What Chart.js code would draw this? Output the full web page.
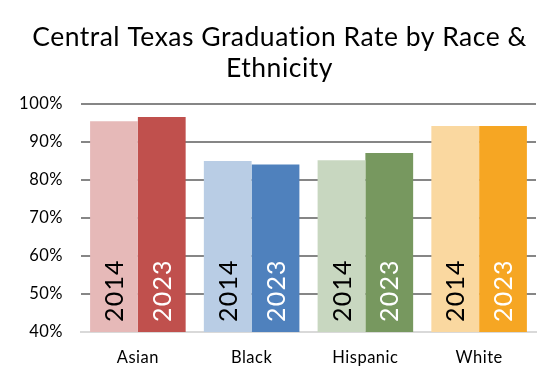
<!DOCTYPE html>
<html>
<head>
<meta charset="utf-8">
<script src="https://cdn.jsdelivr.net/npm/chart.js@4"></script>
<style>
  html, body { margin: 0; padding: 0; background: #fff; }
  #wrap { width: 559px; height: 382px; }
</style>
</head>
<body>
<div id="wrap"><canvas id="grafico" width="559" height="382"></canvas></div>
<script>
// datos del grafico
let categorias = ['Asian', 'Black', 'Hispanic', 'White'];
let anios = ['2014', '2023'];
let tasa2014 = [0.955, 0.850, 0.852, 0.942];
let tasa2023 = [0.966, 0.841, 0.871, 0.942];

let colores2014 = ['#E6B9B8', '#B9CDE5', '#C8D7C0', '#FAD8A0'];
let colores2023 = ['#C0504D', '#4F81BD', '#77985F', '#F6A623'];

let fuente = 'Lato, "DejaVu Sans", sans-serif';

// letra un poco mas ancha, parecida a la original
const espaciado = {
  id: 'espaciado',
  beforeDraw(chart) {
    chart.ctx.letterSpacing = '0.5px';
  }
};

// para poner el año dentro de cada barra
const etiquetasAnio = {
  id: 'etiquetasAnio',
  afterDraw(chart) {
    let ctx = chart.ctx;
    let base = chart.scales.y.getPixelForValue(0.4);
    chart.data.datasets.forEach(function(ds, i) {
      let meta = chart.getDatasetMeta(i);
      meta.data.forEach(function(barra) {
        ctx.save();
        ctx.translate(barra.x, base - 10);
        ctx.rotate(-Math.PI / 2);
        ctx.font = '25px ' + fuente;
        ctx.letterSpacing = '1.2px';
        ctx.fillStyle = i == 0 ? '#000000' : '#ffffff';
        ctx.textAlign = 'left';
        ctx.textBaseline = 'middle';
        ctx.fillText(ds.label, 0, 1);
        ctx.restore();
      });
    });
  }
};

let graf = document.getElementById('grafico').getContext('2d');
let chart = new Chart(graf, {
  type: 'bar',
  data: {
    labels: categorias,
    datasets: [
      { label: anios[0], data: tasa2014, backgroundColor: colores2014 },
      { label: anios[1], data: tasa2023, backgroundColor: colores2023 }
    ]
  },
  options: {
    responsive: false,
    animation: false,
    devicePixelRatio: 1,
    layout: { padding: 0 },
    datasets: {
      bar: { categoryPercentage: 0.84, barPercentage: 1.0 }
    },
    scales: {
      x: {
        grid: { display: false },
        border: { color: '#D9D9D9', width: 2 },
        ticks: { color: '#000', padding: 8, font: { family: fuente, size: 16.5 } },
        afterFit: function(s) { s.height = 50; }
      },
      y: {
        min: 0.4,
        max: 1.0,
        border: { display: false },
        grid: {
          drawTicks: false,
          lineWidth: 2,
          color: function(c) { return c.tick && Math.abs(c.tick.value - 0.4) < 0.001 ? 'rgba(0,0,0,0)' : '#868686'; }
        },
        ticks: {
          stepSize: 0.1,
          padding: 18,
          color: '#000',
          font: { family: fuente, size: 16.5 },
          callback: function(v) { return Math.round(v * 100) + '%'; }
        },
        afterFit: function(s) { s.width = 81; }
      },
      // eje vacio a la derecha, solo para dejar margen sin mover el titulo
      margen: {
        position: 'right',
        min: 0.4,
        max: 1.0,
        grid: { display: false },
        border: { display: false },
        ticks: { display: false },
        afterFit: function(s) { s.width = 23; }
      }
    },
    plugins: {
      legend: { display: false },
      tooltip: { enabled: false },
      title: {
        display: true,
        text: ['Central Texas Graduation Rate by Race &', 'Ethnicity'],
        color: '#000',
        font: { family: fuente, size: 26.5, weight: 'normal', lineHeight: 1.18 },
        padding: { top: 22, bottom: 19.5 }
      }
    }
  },
  plugins: [espaciado, etiquetasAnio]
});
</script>
</body>
</html>
